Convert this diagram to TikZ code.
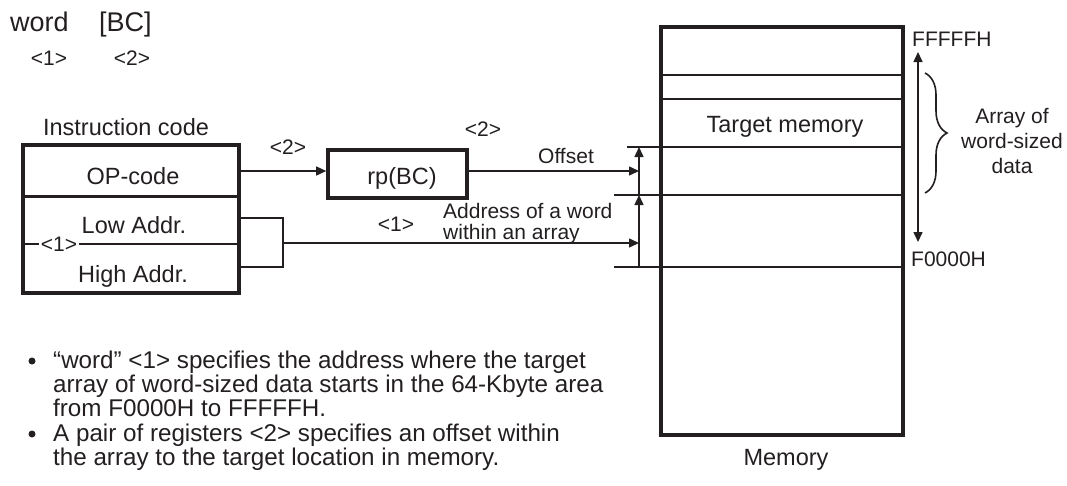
\documentclass[tikz,border=0pt]{standalone}
\usepackage{fontspec}
\setmainfont{Liberation Sans}
\usetikzlibrary{arrows.meta,decorations.pathreplacing}
\definecolor{ink}{HTML}{231F20}
\begin{document}
\begin{tikzpicture}[x=1pt,y=-1pt,
  txt/.style={inner sep=0pt,text=ink,font=\fontsize{23.5}{26}\selectfont},
  stxt/.style={inner sep=0pt,text=ink,font=\fontsize{21}{24}\selectfont},
  ttxt/.style={inner sep=0pt,text=ink,font=\fontsize{27}{30}\selectfont},
  btxt/.style={inner sep=0pt,text=ink,font=\fontsize{24.2}{25}\selectfont,anchor=base west},
  boxk/.style={draw=ink,line width=3.6pt},
  mln/.style={draw=ink,line width=2pt},
  ln/.style={draw=ink,line width=1.5pt},
  arr/.style={ln,-{Triangle[length=10pt,width=9pt]}},
  darr/.style={ln,{Triangle[length=10pt,width=9pt]}-{Triangle[length=10pt,width=9pt]}},
  bul/.style={circle,fill=ink,inner sep=0pt,minimum size=7pt}
]
\useasboundingbox (0,0) rectangle (1067,485);

% title
\node[ttxt,anchor=base west] (tw) at (10,31) {word};
\node[ttxt,anchor=base west] (tbc) at (99,31) {[BC]};
\node[stxt,anchor=base] (t1) at (49,65) {<1>};
\node[stxt,anchor=base] (t2) at (132,65) {<2>};

% instruction code box
\node[txt,anchor=base] (ic) at (126,135) {Instruction code};
\node[boxk,minimum width=216pt,minimum height=148pt,inner sep=0pt] (ins) at (131,219) {};
\coordinate (s1w) at (23,196); \coordinate (s1e) at (239,196);
\draw[ink,line width=3pt] (s1w) -- (s1e);
\coordinate (s2w) at (23,244); \coordinate (s2e) at (239,244);
\draw[ink,line width=2.2pt] (s2w) -- (s2e);
\node[txt,anchor=base] (op) at (133,184) {OP-code};
\node[txt,anchor=base] (lo) at (134,233) {Low Addr.};
\node[txt,anchor=base] (hi) at (133,282) {High Addr.};
\node[stxt,fill=white,inner xsep=2pt,inner ysep=1pt] (i1) at (59,244) {<1>};

% rp box
\node[boxk,minimum width=139pt,minimum height=48pt,inner sep=0pt] (rp) at (397.5,174) {};
\node[txt,anchor=base] (rpt) at (402,184) {rp(BC)};

% OP-code arrow
\coordinate (opout) at (239,171);
\draw[arr] (opout) -- (opout -| rp.west);
\node[stxt,anchor=base] (l2a) at (288,154) {<2>};

% memory
\node[boxk,minimum width=242pt,minimum height=408pt,inner sep=0pt] (mem) at (782,231) {};
\coordinate (m1w) at (661,75);  \coordinate (m1e) at (903,75);
\coordinate (m2w) at (661,99);  \coordinate (m2e) at (903,99);
\coordinate (m3w) at (627,147); \coordinate (m3e) at (903,147);
\coordinate (m4w) at (614,195); \coordinate (m4e) at (903,195);
\coordinate (m5w) at (614,267); \coordinate (m5e) at (903,267);
\draw[mln] (m1w) -- (m1e);
\draw[mln] (m2w) -- (m2e);
\draw[mln] (m3w) -- (m3e);
\draw[mln] (m4w) -- (m4e);
\draw[mln] (m5w) -- (m5e);
\node[txt,anchor=base] (tm) at (785,132) {Target memory};
\node[txt,anchor=base] (memt) at (786,465) {Memory};

% offset arrow
\coordinate (offend) at (639,171);
\draw[arr] (rp.east |- offend) -- (offend);
\node[stxt,anchor=base] (l2b) at (483,136) {<2>};
\node[stxt,anchor=base] (off) at (566,163) {Offset};

% vertical arrows
\coordinate (v1) at (639,267); \coordinate (v2) at (639,195); \coordinate (v3) at (639,147);
\draw[arr] (v1) -- (v2);
\draw[arr] (v2) -- (v3);

% address bracket and arrow
\coordinate (b1) at (239,218); \coordinate (b2) at (283,218);
\coordinate (b3) at (283,267); \coordinate (b4) at (239,267);
\draw[ink,line width=2pt] (b1) -- (b2) -- (b3) -- (b4);
\coordinate (bm) at (283,243); \coordinate (addend) at (639,243);
\draw[arr] (bm) -- (addend);
\node[stxt,anchor=base] (l1) at (396,231) {<1>};
\node[stxt,anchor=base west] (aw1) at (443,218) {Address of a word};
\node[stxt,anchor=base west] (aw2) at (443,239) {within an array};

% right side
\node[stxt,anchor=base west] (fff) at (912,46) {FFFFFH};
\node[stxt,anchor=base west] (f00) at (911,266) {F0000H};
\coordinate (da1) at (918,52); \coordinate (da2) at (918,242);
\draw[darr] (da1) -- (da2);
\coordinate (br1) at (925,73); \coordinate (br2) at (925,193);
\draw[ink,line width=1.6pt,decorate,decoration={brace,amplitude=22pt,aspect=0.5}] (br1) -- (br2);
\node[stxt,anchor=base] (ar1) at (1012,123) {Array of};
\node[stxt,anchor=base] (ar2) at (1012,148) {word-sized};
\node[stxt,anchor=base] (ar3) at (1012,173) {data};

% bullets
\node[bul] (bu1) at (32,361) {};
\node[btxt] (bl1) at (53,368) {“word” <1> specifies the address where the target};
\node[btxt] (bl2) at (53,392) {array of word-sized data starts in the 64-Kbyte area};
\node[btxt] (bl3) at (53,416) {from F0000H to FFFFFH.};
\node[bul] (bu2) at (32,434) {};
\node[btxt] (bl4) at (53,441) {A pair of registers <2> specifies an offset within};
\node[btxt] (bl5) at (53,465) {the array to the target location in memory.};
\end{tikzpicture}
\end{document}
